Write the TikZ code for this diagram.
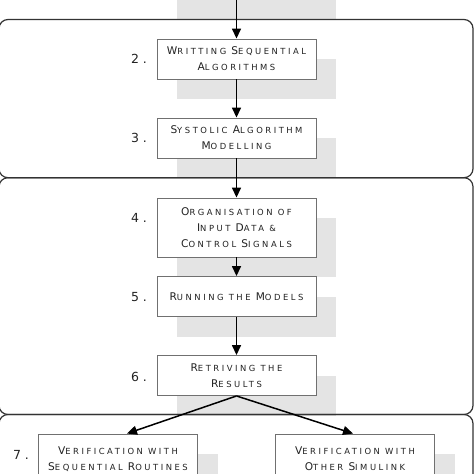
\documentclass[tikz,border=0pt]{standalone}
\usepackage{fontspec}
\setmainfont{DejaVu Sans}
\newfontfamily\boxfont[LetterSpace=30]{DejaVu Sans}
\usetikzlibrary{arrows.meta,calc,shadows}
\definecolor{shadowgray}{HTML}{E4E4E4}
\definecolor{framec}{HTML}{333333}
\definecolor{boxc}{HTML}{707070}
\definecolor{txt}{HTML}{222222}
\newcommand\Bg[1]{{\fontsize{10.6}{16}\selectfont #1}}
\tikzset{
 stepbox/.style={draw=boxc, line width=0.9pt, fill=white, inner sep=0pt, align=center,
   minimum width=159pt, minimum height=40pt, text=txt,
   font=\boxfont\fontsize{8.4}{16}\selectfont,
   drop shadow={shadow xshift=20pt, shadow yshift=-20pt, fill=shadowgray, draw=none, opacity=1}},
 frame/.style={draw=framec, line width=1.2pt, rounded corners=9pt},
 flow/.style={-{Triangle[length=10pt,width=9pt]}, line width=1.5pt, black},
 numlbl/.style={font=\boxfont\fontsize{12.5}{14}\selectfont, inner sep=0pt, text=txt}
}
\begin{document}
\begin{tikzpicture}[x=1pt,y=-1pt]
\useasboundingbox (0,0) rectangle (474,474);
% shadow of the step above the picture
\fill[shadowgray] (177,0) rectangle (336,19);
\coordinate (top) at (236.5,0);
% steps
\node[stepbox] (b2) at (236.5,59) {\Bg{W}RITTING \Bg{S}EQUENTIAL\\\Bg{A}LGORITHMS};
\node[stepbox] (b3) at (236.5,138) {\Bg{S}YSTOLIC \Bg{A}LGORITHM\\\Bg{M}ODELLING};
\node[stepbox, minimum height=59pt] (b4) at (236.5,227.5) {\Bg{O}RGANISATION OF\\\Bg{I}NPUT \Bg{D}ATA \&\\\Bg{C}ONTROL \Bg{S}IGNALS};
\node[stepbox] (b5) at (236.5,296.5) {\Bg{R}UNNING THE \Bg{M}ODELS};
\node[stepbox] (b6) at (236.5,375.5) {\Bg{R}ETRIVING THE\\\Bg{R}ESULTS};
\begin{scope}
\clip (-2,0) rectangle (476,474);
\node[stepbox, minimum height=50pt] (b7a) at (118,459) {\Bg{V}ERIFICATION WITH\\\Bg{S}EQUENTIAL \Bg{R}OUTINES};
\node[stepbox, minimum height=50pt] (b7b) at (355,459) {\Bg{V}ERIFICATION WITH\\\Bg{O}THER \Bg{S}IMULINK};
\draw[frame] (-1,414.5) rectangle (473,540);
\end{scope}
% numbers
\node[numlbl] (n2) at (139,59) {2.};
\node[numlbl] (n3) at (139,138) {3.};
\node[numlbl] (n4) at (139,218) {4.};
\node[numlbl] (n5) at (139,297) {5.};
\node[numlbl] (n6) at (139,377) {6.};
\node[numlbl] (n7) at (21,455) {7.};
% frames
\draw[frame] (-1,19.5) rectangle (473,177.7);
\draw[frame] (-1,177.7) rectangle (473,414.5);
% connectors
\draw[flow] (top) -- (b2);
\draw[flow] (b2) -- (b3);
\draw[flow] (b3) -- (b4);
\draw[flow] (b4) -- (b5);
\draw[flow] (b5) -- (b6);
\draw[flow] (b6.south) -- ($(b7a.north)+(9,0)$);
\draw[flow] (b6.south) -- ($(b7b.north)+(-2,0)$);
\end{tikzpicture}
\end{document}
